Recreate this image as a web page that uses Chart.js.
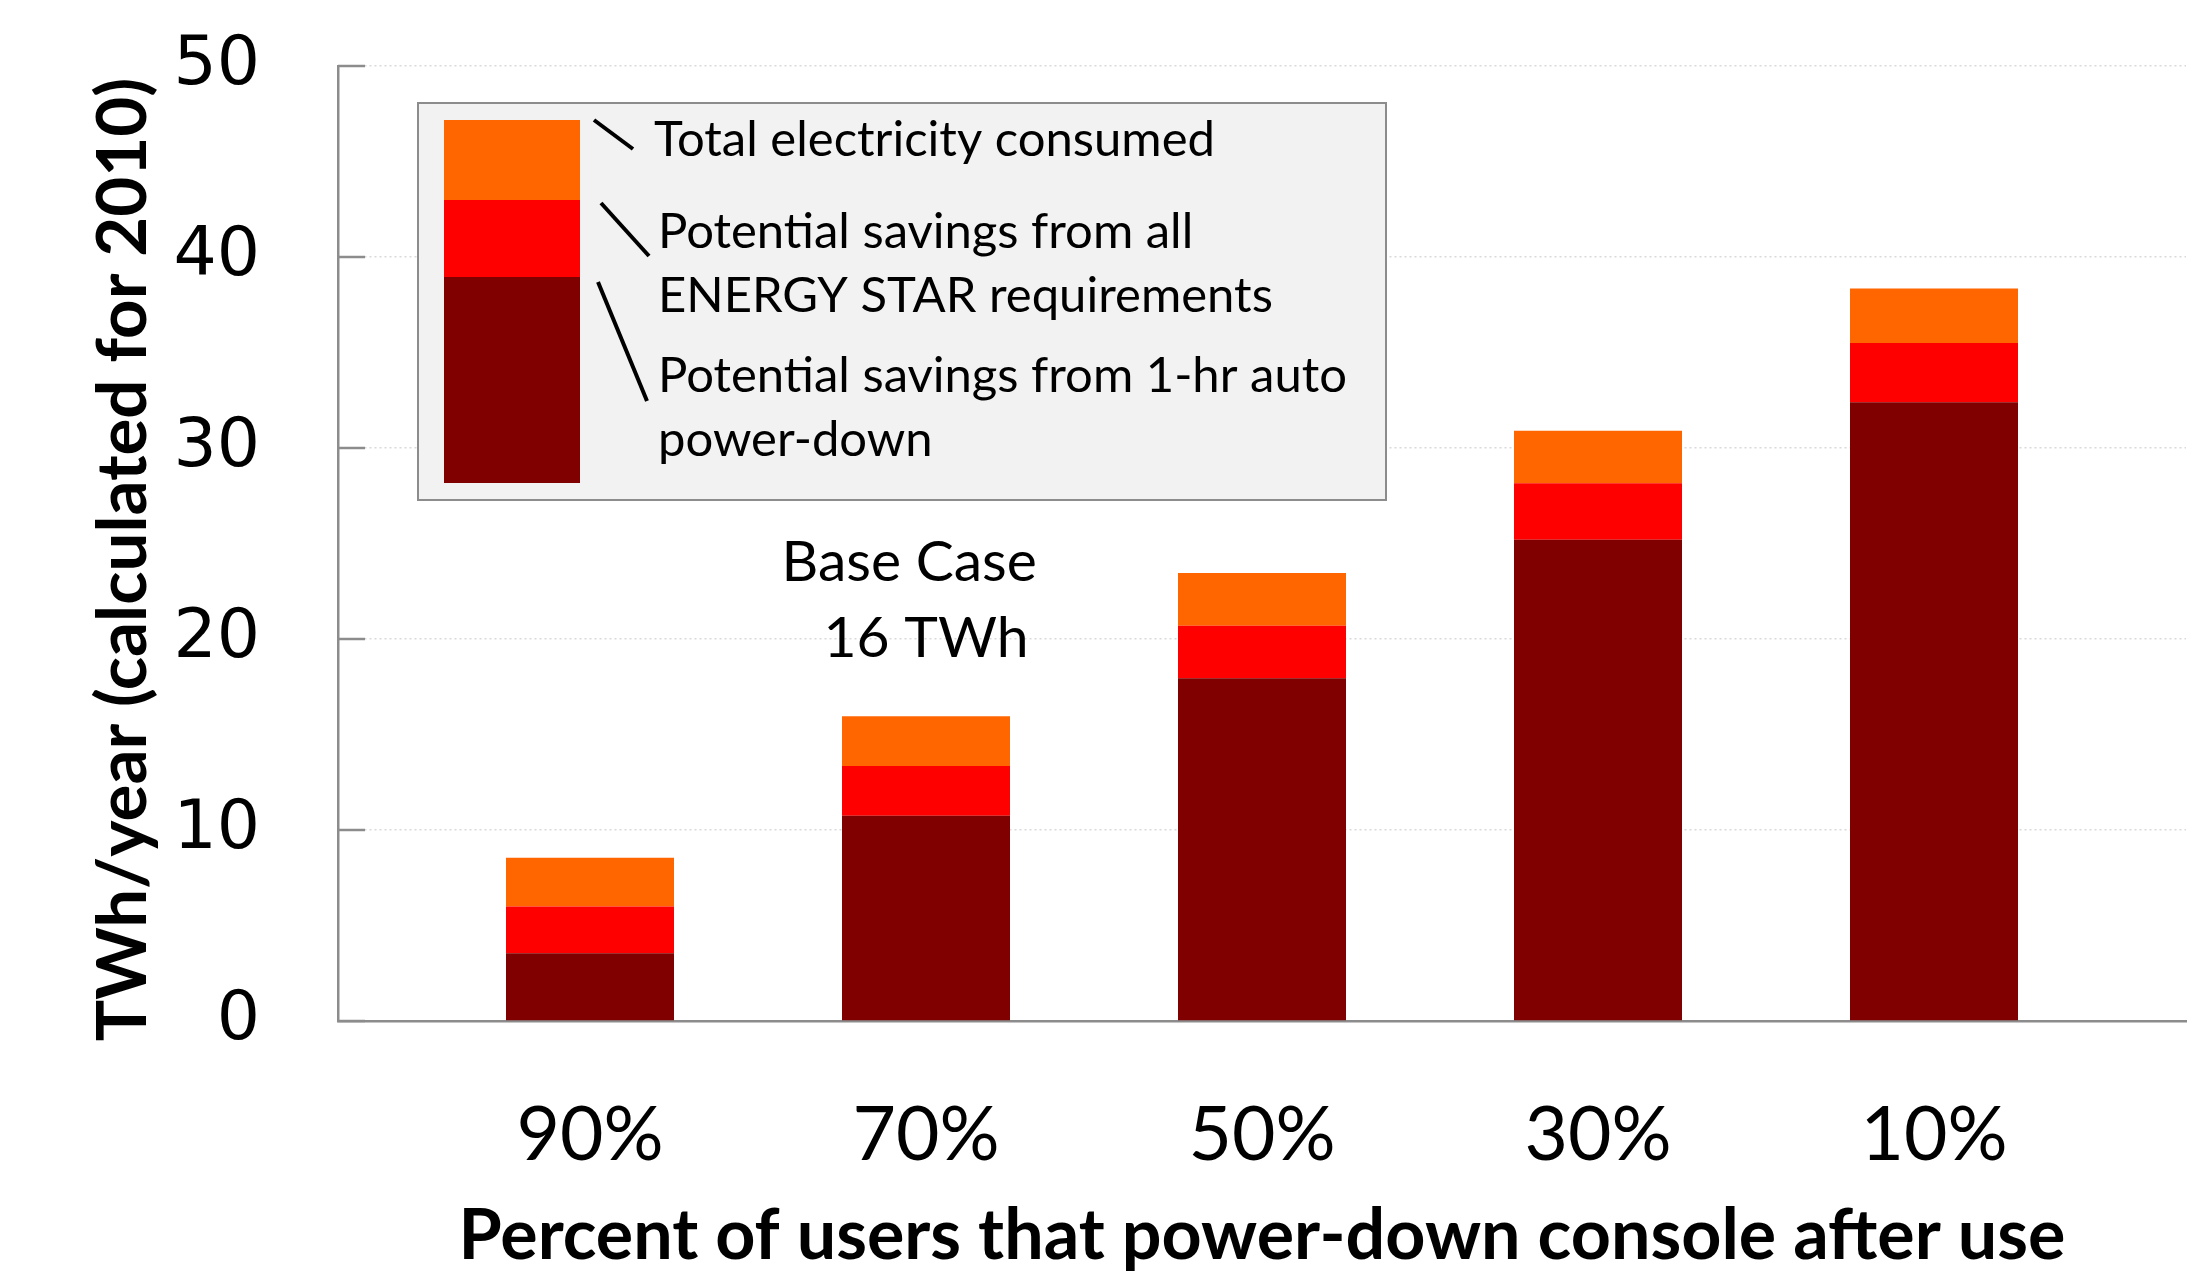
<!DOCTYPE html>
<html>
<head>
<meta charset="utf-8">
<script src="https://cdn.jsdelivr.net/npm/chart.js@4.4.0/dist/chart.umd.min.js"></script>
<style>
  html, body { margin: 0; padding: 0; background: #fff; }
</style>
</head>
<body>
<canvas id="powerChart" width="2190" height="1271"></canvas>
<script>
const categories = ['90%', '70%', '50%', '30%', '10%'];
// stacked segment heights, bottom to top (TWh/year)
const autoPowerDown = [3.55, 10.75, 17.95, 25.2, 32.4];
const energyStar = [2.45, 2.6, 2.75, 2.95, 3.1];
const totalConsumed = [2.55, 2.6, 2.75, 2.75, 2.85];
const yTicks = [0, 10, 20, 30, 40, 50];

const seriesNames = ['Potential savings from 1-hr auto power-down', 'Potential savings from all ENERGY STAR requirements', 'Total electricity consumed'];
const seriesColors = ['#800000', '#ff0000', '#ff6600'];
const legendLines = ['Total electricity consumed', 'Potential savings from all', 'ENERGY STAR requirements', 'Potential savings from 1-hr auto', 'power-down'];
const yTitle = 'TWh/year (calculated for 2010)';

const points = vals => vals.map((v, i) => ({ x: i, y: v }));

// short solid ticks on the inside of the y axis, plus the y title
const innerTicks = {
  id: 'innerTicks',
  afterDraw(chart) {
    const { ctx, scales: { y } } = chart;
    ctx.save();
    ctx.strokeStyle = '#8c8c8c';
    ctx.lineWidth = 2.5;
    yTicks.forEach(t => {
      const py = y.getPixelForValue(t);
      ctx.beginPath();
      ctx.moveTo(y.right, py);
      ctx.lineTo(y.right + 27, py);
      ctx.stroke();
    });

    ctx.translate(124, (y.top + y.bottom) / 2 + 16);
    ctx.rotate(-Math.PI / 2);
    ctx.fillStyle = '#000';
    ctx.font = 'bold 69px Lato';
    ctx.textAlign = 'center';
    ctx.textBaseline = 'middle';
    ctx.fillText(yTitle, 0, 0);
    ctx.restore();
  }
};

// the boxed legend with leader lines, and the base case note
const legendBox = {
  id: 'legendBox',
  afterDatasetsDraw(chart) {
    const { ctx, chartArea: a, scales: { x, y } } = chart;
    const x0 = a.left + 80, y0 = a.top + 37;
    ctx.save();
    ctx.fillStyle = '#f2f2f2';
    ctx.fillRect(x0, y0, 968, 397);
    ctx.strokeStyle = '#8c8c8c';
    ctx.lineWidth = 2;
    ctx.strokeRect(x0, y0, 968, 397);

    const sw = [[17, 97, 2], [97, 174, 1], [174, 380, 0]];
    sw.forEach(([t, b, k]) => {
      ctx.fillStyle = seriesColors[k];
      ctx.fillRect(x0 + 26, y0 + t, 136, b - t);
    });

    ctx.strokeStyle = '#000';
    ctx.lineWidth = 4;
    [[176, 17, 215, 46], [183, 100, 231, 153], [180, 179, 229, 298]].forEach(l => {
      ctx.beginPath();
      ctx.moveTo(x0 + l[0], y0 + l[1]);
      ctx.lineTo(x0 + l[2], y0 + l[3]);
      ctx.stroke();
    });

    ctx.fillStyle = '#000';
    ctx.font = '49px Lato';
    ctx.textBaseline = 'middle';
    ctx.textAlign = 'left';
    const ly = [37, 129, 193, 273, 337];
    legendLines.forEach((s, i) => ctx.fillText(s, x0 + (i == 0 ? 236 : 240), y0 + ly[i]));

    ctx.font = '57px Lato';
    ctx.textAlign = 'center';
    ctx.fillText('Base Case', x.getPixelForValue(0.95), y.getPixelForValue(24));
    ctx.fillText('16 TWh', x.getPixelForValue(1), y.getPixelForValue(20));
    ctx.restore();
  }
};

new Chart(document.getElementById('powerChart'), {
  type: 'bar',
  data: {
    datasets: [
      { label: seriesNames[0], data: points(autoPowerDown), backgroundColor: seriesColors[0] },
      { label: seriesNames[1], data: points(energyStar), backgroundColor: seriesColors[1] },
      { label: seriesNames[2], data: points(totalConsumed), backgroundColor: seriesColors[2] }
    ]
  },
  options: {
    responsive: false,
    animation: false,
    barPercentage: 0.5,
    categoryPercentage: 1,
    layout: { padding: { top: 66, right: 4 } },
    plugins: { legend: { display: false }, tooltip: { enabled: false } },
    scales: {
      x: {
        type: 'linear',
        min: -0.75,
        max: 4.75,
        offset: false,
        stacked: true,
        grid: { display: false, offset: false },
        border: { color: '#8c8c8c', width: 2.5 },
        afterBuildTicks(s) { s.ticks = categories.map((c, i) => ({ value: i })); },
        ticks: {
          autoSkip: false,
          maxRotation: 0,
          padding: 62,
          color: '#000',
          font: { family: 'Lato', size: 75 },
          callback: v => categories[v]
        },
        title: {
          display: true,
          text: 'Percent of users that power-down console after use',
          color: '#000',
          font: { family: 'Lato', size: 70, weight: 'bold', lineHeight: 1 },
          padding: { top: 4, bottom: 0 }
        },
        afterFit(s) { s.height = 250; }
      },
      y: {
        min: 0,
        max: 50,
        stacked: true,
        border: { color: '#8c8c8c', width: 2.5, dash: [2, 3] },
        grid: { color: '#d9d9d9', lineWidth: 1.5, drawTicks: false },
        ticks: {
          stepSize: 10,
          padding: 78,
          color: '#000',
          font: { family: 'DejaVu Sans', size: 68 }
        },
        afterFit(s) {
          s.width = 338;
          s.paddingTop = 0;
          s.paddingBottom = 0;
        }
      }
    }
  },
  plugins: [innerTicks, legendBox]
});
</script>
</body>
</html>
